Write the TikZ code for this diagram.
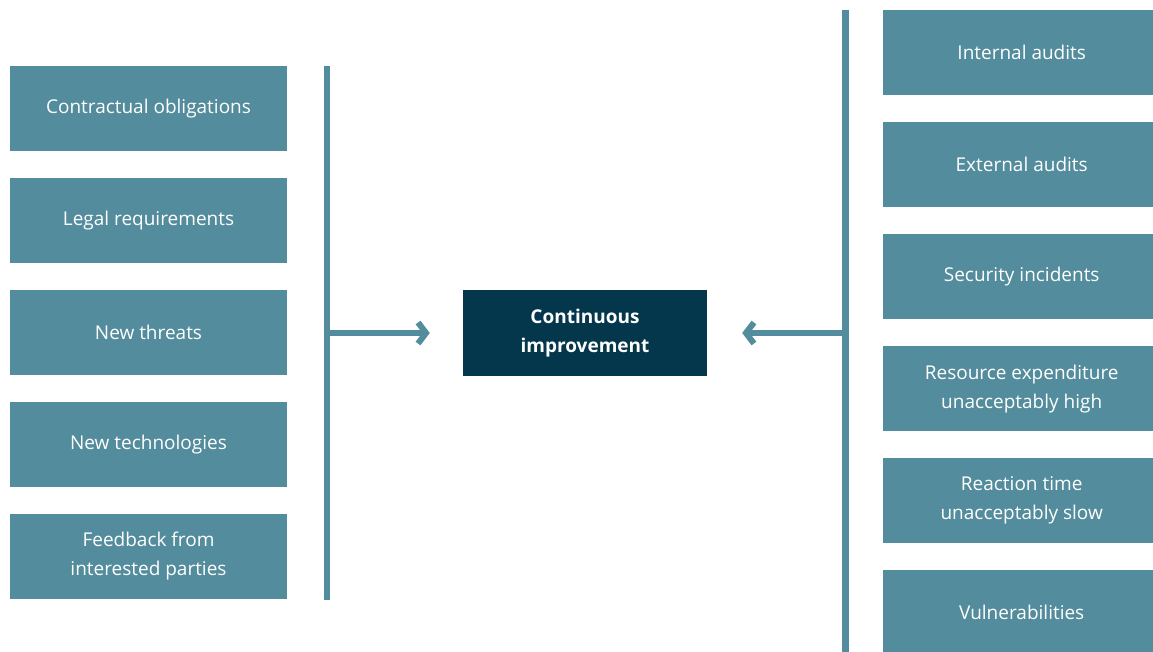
\documentclass[tikz,border=0pt]{standalone}
\usepackage{fontspec}
\setmainfont{Open Sans}
\usetikzlibrary{arrows.meta}
\definecolor{teal}{HTML}{538C9C}
\definecolor{navy}{HTML}{04374C}
\begin{document}
\begin{tikzpicture}[x=1pt,y=-1pt,
  box/.style={fill=teal,draw=none,minimum width=277pt,minimum height=85pt,inner sep=0pt,
    text=white,font=\fontsize{19}{29}\selectfont,align=center},
  centerbox/.style={fill=navy,draw=none,minimum width=244pt,minimum height=86pt,inner sep=0pt,
    text=white,font=\fontsize{19}{29}\selectfont\bfseries,align=center},
  bar/.style={draw=teal,line width=6.5pt},
  flow/.style={draw=teal,line width=6pt,-{Straight Barb[length=8pt,width=21pt]}}]
\useasboundingbox (0,0) rectangle (1153,652);
% left column of drivers
\node[box] (l1) at (148.5,108.5) {Contractual obligations};
\node[box] (l2) at (148.5,220.5) {Legal requirements};
\node[box] (l3) at (148.5,332.5) {New threats};
\node[box] (l4) at (148.5,444.5) {New technologies};
\node[box] (l5) at (148.5,556.5) {Feedback from\\interested parties};
% right column of triggers
\node[box,anchor=north west] (r1) at (883,10) {Internal audits};
\node[box,anchor=north west] (r2) at (883,122) {External audits};
\node[box,anchor=north west] (r3) at (883,234) {Security incidents};
\node[box,anchor=north west] (r4) at (883,346) {Resource expenditure\\unacceptably high};
\node[box,anchor=north west] (r5) at (883,458) {Reaction time\\unacceptably slow};
\node[box,anchor=north west] (r6) at (883,570) {Vulnerabilities};
% centre
\node[centerbox] (c) at (585,333) {Continuous\\improvement};
% collecting bars
\coordinate (lt) at (327,66);
\coordinate (lb) at (327,600);
\coordinate (rt) at (845.5,10);
\coordinate (rb) at (845.5,652);
\draw[bar] (lt) -- (lb);
\draw[bar] (rt) -- (rb);
\draw[flow,shorten >=33pt] (lt |- c.west) -- (c.west);
\draw[flow,shorten >=35pt] (rt |- c.east) -- (c.east);
\end{tikzpicture}
\end{document}
